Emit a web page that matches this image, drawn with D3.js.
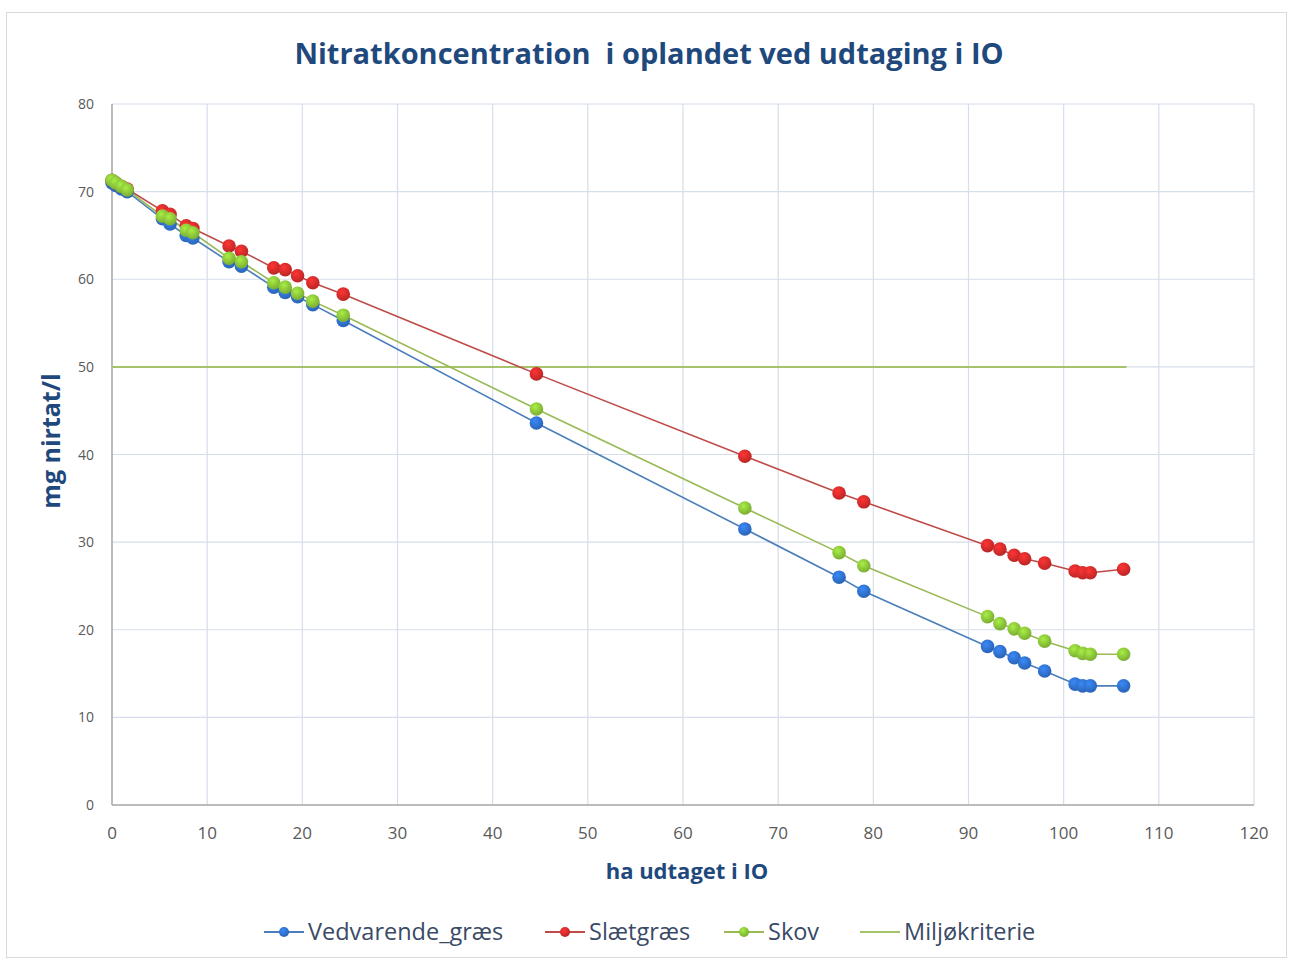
<!DOCTYPE html>
<html>
<head>
<meta charset="utf-8">
<script src="https://cdn.jsdelivr.net/npm/d3@7"></script>
<style>
  body { margin: 0; background: #fff; }
  text { font-family: "Open Sans", "Noto Sans", sans-serif; }
</style>
</head>
<body>
<div id="chart"></div>
<script>
// Data
const haVedvarende = [0, 0.4, 1.0, 1.6, 5.3, 6.1, 7.8, 8.5, 12.3, 13.6, 17.0, 18.2, 19.5, 21.1, 24.3, 44.6, 66.5, 76.4, 79.0, 92.0, 93.3, 94.8, 95.9, 98.0, 101.2, 102.0, 102.8, 106.3];
const vedvarende = [71.0, 70.7, 70.3, 70.0, 66.9, 66.3, 65.0, 64.7, 62.0, 61.5, 59.1, 58.5, 58.0, 57.1, 55.3, 43.6, 31.5, 26.0, 24.4, 18.1, 17.5, 16.8, 16.2, 15.3, 13.8, 13.6, 13.6, 13.6];
const slaetgraes = [71.3, 71.0, 70.6, 70.3, 67.8, 67.4, 66.1, 65.8, 63.8, 63.2, 61.3, 61.1, 60.4, 59.6, 58.3, 49.2, 39.8, 35.6, 34.6, 29.6, 29.2, 28.5, 28.1, 27.6, 26.7, 26.5, 26.5, 26.9];
const skov = [71.3, 71.0, 70.6, 70.2, 67.2, 66.9, 65.6, 65.3, 62.4, 62.0, 59.6, 59.1, 58.4, 57.5, 55.9, 45.2, 33.9, 28.8, 27.3, 21.5, 20.7, 20.1, 19.6, 18.7, 17.6, 17.3, 17.2, 17.2];
const miljoX = [0, 106.6];
const miljoY = [50, 50];

const xTicks = d3.range(0, 121, 10);
const yTicks = d3.range(0, 81, 10);

const seriesNames = ["Vedvarende_græs", "Slætgræs", "Skov", "Miljøkriterie"];
const lineColors = ["#4a7ebb", "#be4b48", "#98b954", "#a4c36a"];
const markerColors = ["#2f6fc9", "#cf2a2a", "#88c038", null];

const width = 1290, height = 962;
const margin = { left: 112, right: 36, top: 104, bottom: 157 };

const svg = d3.select("#chart").append("svg")
  .attr("width", width)
  .attr("height", height);

// outer chart border
svg.append("rect")
  .attr("x", 6.5).attr("y", 12.5)
  .attr("width", 1280).attr("height", 945)
  .attr("fill", "#fff")
  .attr("stroke", "#dadada");

const x = d3.scaleLinear().domain([0, 120]).range([margin.left, width - margin.right]);
const y = d3.scaleLinear().domain([0, 80]).range([height - margin.bottom, margin.top]);

// gradients for glossy markers
const defs = svg.append("defs");
markerColors.forEach((c, i) => {
  if (!c) return;
  const g = defs.append("radialGradient")
    .attr("id", "grad" + i)
    .attr("cx", "40%").attr("cy", "35%").attr("r", "65%");
  g.append("stop").attr("offset", "0%").attr("stop-color", d3.color(c).brighter(0.6));
  g.append("stop").attr("offset", "100%").attr("stop-color", d3.color(c).darker(0.3));
});

// gridlines
svg.append("g")
  .selectAll("line")
  .data(xTicks.slice(1))
  .enter().append("line")
  .attr("x1", d => x(d)).attr("x2", d => x(d))
  .attr("y1", y(0)).attr("y2", y(80))
  .attr("stroke", "#d5deea").attr("stroke-width", 1.2);

svg.append("g")
  .selectAll("line")
  .data(yTicks.slice(1))
  .enter().append("line")
  .attr("x1", x(0)).attr("x2", x(120))
  .attr("y1", d => y(d)).attr("y2", d => y(d))
  .attr("stroke", "#d5deea").attr("stroke-width", 1.2);

// axis lines
svg.append("line")
  .attr("x1", x(0)).attr("x2", x(0))
  .attr("y1", y(0)).attr("y2", y(80))
  .attr("stroke", "#a6a6a6").attr("stroke-width", 1.5);
svg.append("line")
  .attr("x1", x(0)).attr("x2", x(120))
  .attr("y1", y(0)).attr("y2", y(0))
  .attr("stroke", "#a6a6a6").attr("stroke-width", 1.5);

// tick labels
svg.append("g")
  .selectAll("text")
  .data(yTicks)
  .enter().append("text")
  .attr("x", x(0) - 18)
  .attr("y", d => y(d) + 5)
  .attr("text-anchor", "end")
  .attr("font-size", 14)
  .attr("fill", "#595959")
  .text(d => d);

svg.append("g")
  .selectAll("text")
  .data(xTicks)
  .enter().append("text")
  .attr("x", d => x(d))
  .attr("y", y(0) + 34)
  .attr("text-anchor", "middle")
  .attr("font-size", 17)
  .attr("fill", "#595959")
  .text(d => d);

// titles
svg.append("text")
  .attr("x", 649).attr("y", 64)
  .attr("text-anchor", "middle")
  .attr("font-size", 29)
  .attr("font-weight", "bold")
  .attr("fill", "#1f497d")
  .attr("xml:space", "preserve")
  .text("Nitratkoncentration  i oplandet ved udtaging i IO");

svg.append("text")
  .attr("x", 687).attr("y", 879)
  .attr("text-anchor", "middle")
  .attr("font-size", 22)
  .attr("font-weight", "bold")
  .attr("fill", "#1f497d")
  .text("ha udtaget i IO");

svg.append("text")
  .attr("transform", "translate(60,441) rotate(-90)")
  .attr("text-anchor", "middle")
  .attr("font-size", 25)
  .attr("font-weight", "bold")
  .attr("fill", "#1f497d")
  .text("mg nirtat/l");

// series
const seriesData = [
  haVedvarende.map((h, i) => [h, vedvarende[i]]),
  haVedvarende.map((h, i) => [h, slaetgraes[i]]),
  haVedvarende.map((h, i) => [h, skov[i]]),
  miljoX.map((h, i) => [h, miljoY[i]])
];

const line = d3.line().x(d => x(d[0])).y(d => y(d[1]));

// draw the criterion line first, then series
[3, 0, 1, 2].forEach(i => {
  svg.append("path")
    .datum(seriesData[i])
    .attr("fill", "none")
    .attr("stroke", lineColors[i])
    .attr("stroke-width", i === 3 ? 2 : 1.6)
    .attr("d", line);
});

[0, 1, 2].forEach(i => {
  svg.append("g")
    .selectAll("circle")
    .data(seriesData[i])
    .enter().append("circle")
    .attr("cx", d => x(d[0]))
    .attr("cy", d => y(d[1]))
    .attr("r", 6.8)
    .attr("fill", "url(#grad" + i + ")");
});

// legend
const legendX = [264, 545, 724, 860];
const legendY = 932;
const legend = svg.append("g");
seriesNames.forEach((name, i) => {
  const g = legend.append("g");
  g.append("line")
    .attr("x1", legendX[i]).attr("x2", legendX[i] + 40)
    .attr("y1", legendY).attr("y2", legendY)
    .attr("stroke", lineColors[i]).attr("stroke-width", 2);
  if (markerColors[i]) {
    g.append("circle")
      .attr("cx", legendX[i] + 20).attr("cy", legendY)
      .attr("r", 5)
      .attr("fill", "url(#grad" + i + ")");
  }
  g.append("text")
    .attr("x", legendX[i] + 44)
    .attr("y", legendY + 8)
    .attr("font-size", 23.5)
    .attr("fill", "#3a4a66")
    .text(name);
});
</script>
</body>
</html>
